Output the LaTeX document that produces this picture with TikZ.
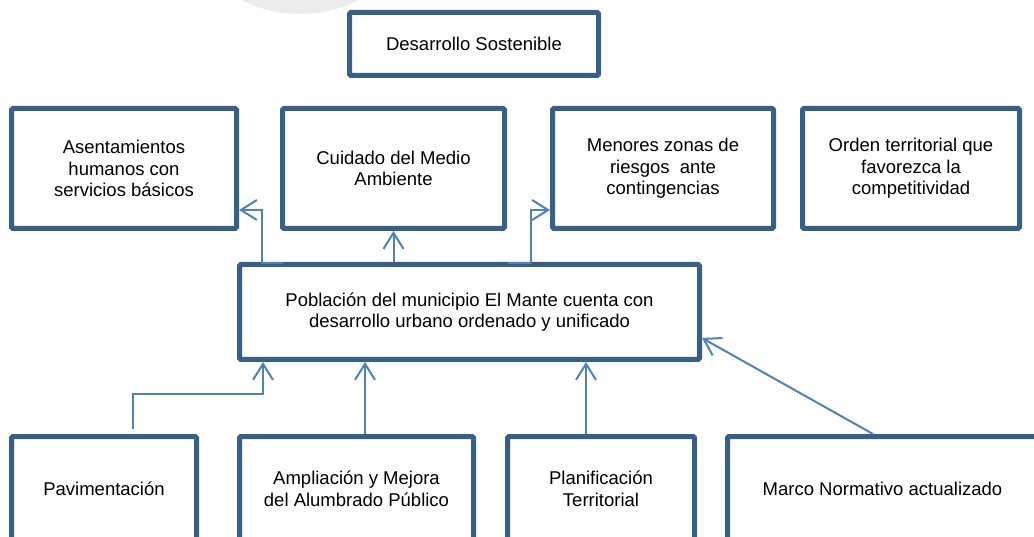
\documentclass[tikz,border=0pt]{standalone}
\usepackage{fontspec}
\setmainfont{Liberation Sans}
\usepackage{xcolor}
\usepackage{tikz}
\usetikzlibrary{arrows.meta, positioning, calc}
\definecolor{boxblue}{RGB}{56, 94, 138}
\definecolor{linkblue}{RGB}{79, 129, 189}
\definecolor{markgray}{RGB}{236, 236, 236}
\tikzset{
    goal/.style={rectangle, rounded corners=1.5pt, draw=boxblue,
                 fill=white, line width=5pt, align=center, inner sep=2pt,
                 font=\fontsize{18.5pt}{21.5pt}\selectfont},
    link/.style={line width=2pt, color=linkblue,
                 -{Straight Barb[length=16pt, width=20pt, line width=2pt]}},
}

\begin{document}
\begin{tikzpicture}[x=1pt, y=-1pt]
    \useasboundingbox (0,0) rectangle (1034,537);
    \clip (0,0) rectangle (1034,537);
    \fill[markgray] (300,-115) circle (129pt);

    % Top
    \node[goal, minimum width=249pt, minimum height=63pt] (fin) at (474,44) {Desarrollo Sostenible};

    % Effects
    \node[goal, minimum width=225pt, minimum height=120pt] (asent) at (124,168.5) {Asentamientos\\humanos con\\servicios b\'asicos};
    \node[goal, minimum width=222pt, minimum height=120pt] (cuidado) at (393.5,168.5) {Cuidado del Medio\\Ambiente};
    \node[goal, minimum width=221pt, minimum height=120pt] (menores) at (663,168.5) {Menores zonas de\\riesgos\ \ ante\\contingencias};
    \node[goal, minimum width=217pt, minimum height=120pt] (orden) at (911,168.5) {Orden territorial que\\favorezca la\\competitividad};

    % Purpose
    \node[goal, minimum width=460pt, minimum height=95pt] (prop) at (469.5,312) {Poblaci\'on del municipio El Mante cuenta con\\desarrollo urbano ordenado y unificado};

    % Components
    \node[goal, minimum width=185pt, minimum height=105pt] (pav) at (104,489) {Pavimentaci\'on};
    \node[goal, minimum width=234pt, minimum height=105pt] (ampl) at (356.5,489) {Ampliaci\'on y Mejora\\del Alumbrado P\'ublico};
    \node[goal, minimum width=187pt, minimum height=105pt] (plan) at (601,489) {Planificaci\'on\\Territorial};
    \node[goal, minimum width=310pt, minimum height=105pt] (marco) at (882.5,489) {Marco Normativo actualizado};

    % Purpose to effects
    \draw[link] ([xshift=46pt,yshift=-1pt]prop.north west) -- ++(-21pt,0pt) |- ([yshift=-41.5pt]asent.east);
    \draw[link] (cuidado.south |- prop.north) -- (cuidado.south);
    \draw[link] ([xshift=-194pt,yshift=-1pt]prop.north east) -- ++(23pt,0pt) |- ([yshift=-41.5pt]menores.west);

    % Components to purpose
    \draw[link] ([xshift=29pt,yshift=5pt]pav.north) |- ([xshift=26pt,yshift=-32pt]prop.south west) -- ([xshift=26pt]prop.south west);
    \draw[link] ([xshift=8.5pt]ampl.north) -- ([xshift=-104.5pt]prop.south);
    \draw[link] ([xshift=-15pt]plan.north) -- ([xshift=116.5pt]prop.south);
    \draw[link] ([xshift=-9.5pt]marco.north) -- ([yshift=-26pt]prop.east);
\end{tikzpicture}
\end{document}
